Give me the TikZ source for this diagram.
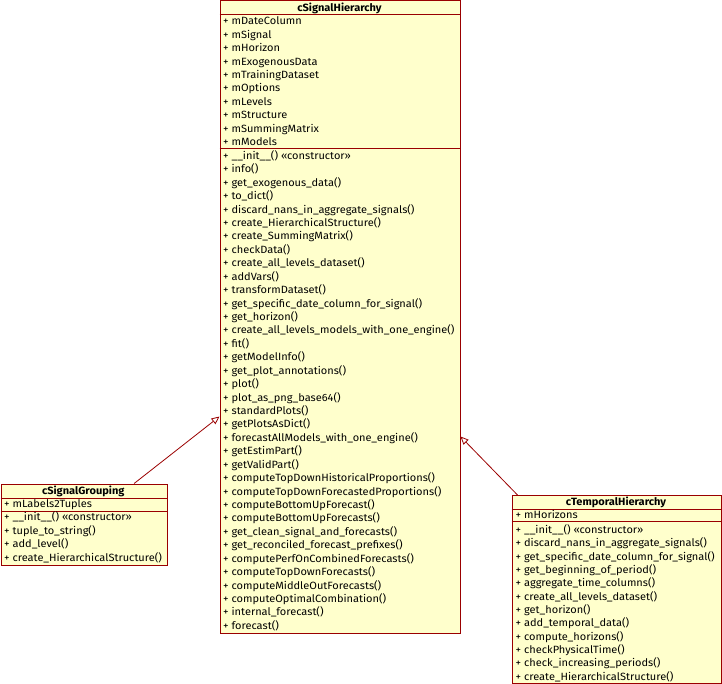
\documentclass[tikz,border=0pt]{standalone}
\usepackage{fontspec}
\setmainfont{Fira Sans}[FakeStretch=1.05]
\usetikzlibrary{arrows.meta,calc}
\definecolor{umlline}{HTML}{9A0000}
\definecolor{umlfill}{HTML}{FFFFCC}
\tikzset{
  classbox/.style={draw=umlline, fill=umlfill, line width=1pt, inner sep=0pt, anchor=north west},
  classtitle/.style={font=\fontsize{10.5}{12}\selectfont\bfseries, anchor=base, inner sep=0pt},
  member/.style={font=\fontsize{10.5}{12}\selectfont, anchor=base west, inner sep=0pt},
  sepline/.style={draw=umlline, line width=1pt},
  inherit/.style={draw=umlline, line width=0.8pt, -{Triangle[open, length=8pt, width=7pt, fill=white]}}
}
\begin{document}
\begin{tikzpicture}[x=1pt, y=-1pt]
\useasboundingbox (0,0) rectangle (722,684);

% cSignalHierarchy
\node[classbox, minimum width=240pt, minimum height=632pt] (sh) at (219.5,0.5) {};
\node[classtitle] (shtitle) at (339.5,11.5) {cSignalHierarchy};
\draw[sepline] ($(sh.north west)+(0,14)$) -- ($(sh.north east)+(0,14)$);
\draw[sepline] ($(sh.north west)+(0,148)$) -- ($(sh.north east)+(0,148)$);
\foreach \t [count=\i from 0] in {mDateColumn, mSignal, mHorizon, mExogenousData,
  mTrainingDataset, mOptions, mLevels, mStructure, mSummingMatrix, mModels}
  \node[member] (sha\i) at (223, 24.8+\i*13.43) {+ \t};
\foreach \t [count=\i from 0] in {\_\_init\_\_() «constructor», info(), get\_exogenous\_data(),
  to\_dict(), discard\_nans\_in\_aggregate\_signals(), create\_HierarchicalStructure(),
  create\_SummingMatrix(), checkData(), create\_all\_levels\_dataset(), addVars(),
  transformDataset(), get\_specific\_date\_column\_for\_signal(), get\_horizon(),
  create\_all\_levels\_models\_with\_one\_engine(), fit(), getModelInfo(),
  get\_plot\_annotations(), plot(), plot\_as\_png\_base64(), standardPlots(),
  getPlotsAsDict(), forecastAllModels\_with\_one\_engine(), getEstimPart(),
  getValidPart(), computeTopDownHistoricalProportions(),
  computeTopDownForecastedProportions(), computeBottomUpForecast(),
  computeBottomUpForecasts(), get\_clean\_signal\_and\_forecasts(),
  get\_reconciled\_forecast\_prefixes(), computePerfOnCombinedForecasts(),
  computeTopDownForecasts(), computeMiddleOutForecasts(),
  computeOptimalCombination(), internal\_forecast(), forecast()}
  \node[member] (shm\i) at (223, 159.3+\i*13.43) {+ \t};

% cSignalGrouping
\node[classbox, minimum width=166pt, minimum height=81pt] (sg) at (0.5,483.5) {};
\node[classtitle] (sgtitle) at (83.25,494.5) {cSignalGrouping};
\draw[sepline] ($(sg.north west)+(0,15)$) -- ($(sg.north east)+(0,15)$);
\draw[sepline] ($(sg.north west)+(0,27.5)$) -- ($(sg.north east)+(0,27.5)$);
\node[member] (sga0) at (4, 507.5) {+ mLabels2Tuples};
\foreach \t [count=\i from 0] in {\_\_init\_\_() «constructor», tuple\_to\_string(),
  add\_level(), create\_HierarchicalStructure()}
  \node[member] (sgm\i) at (4, 520.8+\i*13.43) {+ \t};

% cTemporalHierarchy
\node[classbox, minimum width=209pt, minimum height=188pt] (th) at (511.5,495) {};
\node[classtitle] (thtitle) at (616,505.5) {cTemporalHierarchy};
\draw[sepline] ($(th.north west)+(0,14.3)$) -- ($(th.north east)+(0,14.3)$);
\draw[sepline] ($(th.north west)+(0,26.7)$) -- ($(th.north east)+(0,26.7)$);
\node[member] (tha0) at (515.5, 518.5) {+ mHorizons};
\foreach \t [count=\i from 0] in {\_\_init\_\_() «constructor»,
  discard\_nans\_in\_aggregate\_signals(), get\_specific\_date\_column\_for\_signal(),
  get\_beginning\_of\_period(), aggregate\_time\_columns(), create\_all\_levels\_dataset(),
  get\_horizon(), add\_temporal\_data(), compute\_horizons(), checkPhysicalTime(),
  check\_increasing\_periods(), create\_HierarchicalStructure()}
  \node[member] (thm\i) at (515.5, 533.5+\i*13.34) {+ \t};

% inheritance arrows
\draw[inherit] ($(sg.north west)!0.8!(sg.north east)$) -- ($(sh.north west)+(0,416)$);
\draw[inherit] ($(th.north west)+(6,0)$) -- ($(sh.north east)+(0,436)$);
\end{tikzpicture}
\end{document}
